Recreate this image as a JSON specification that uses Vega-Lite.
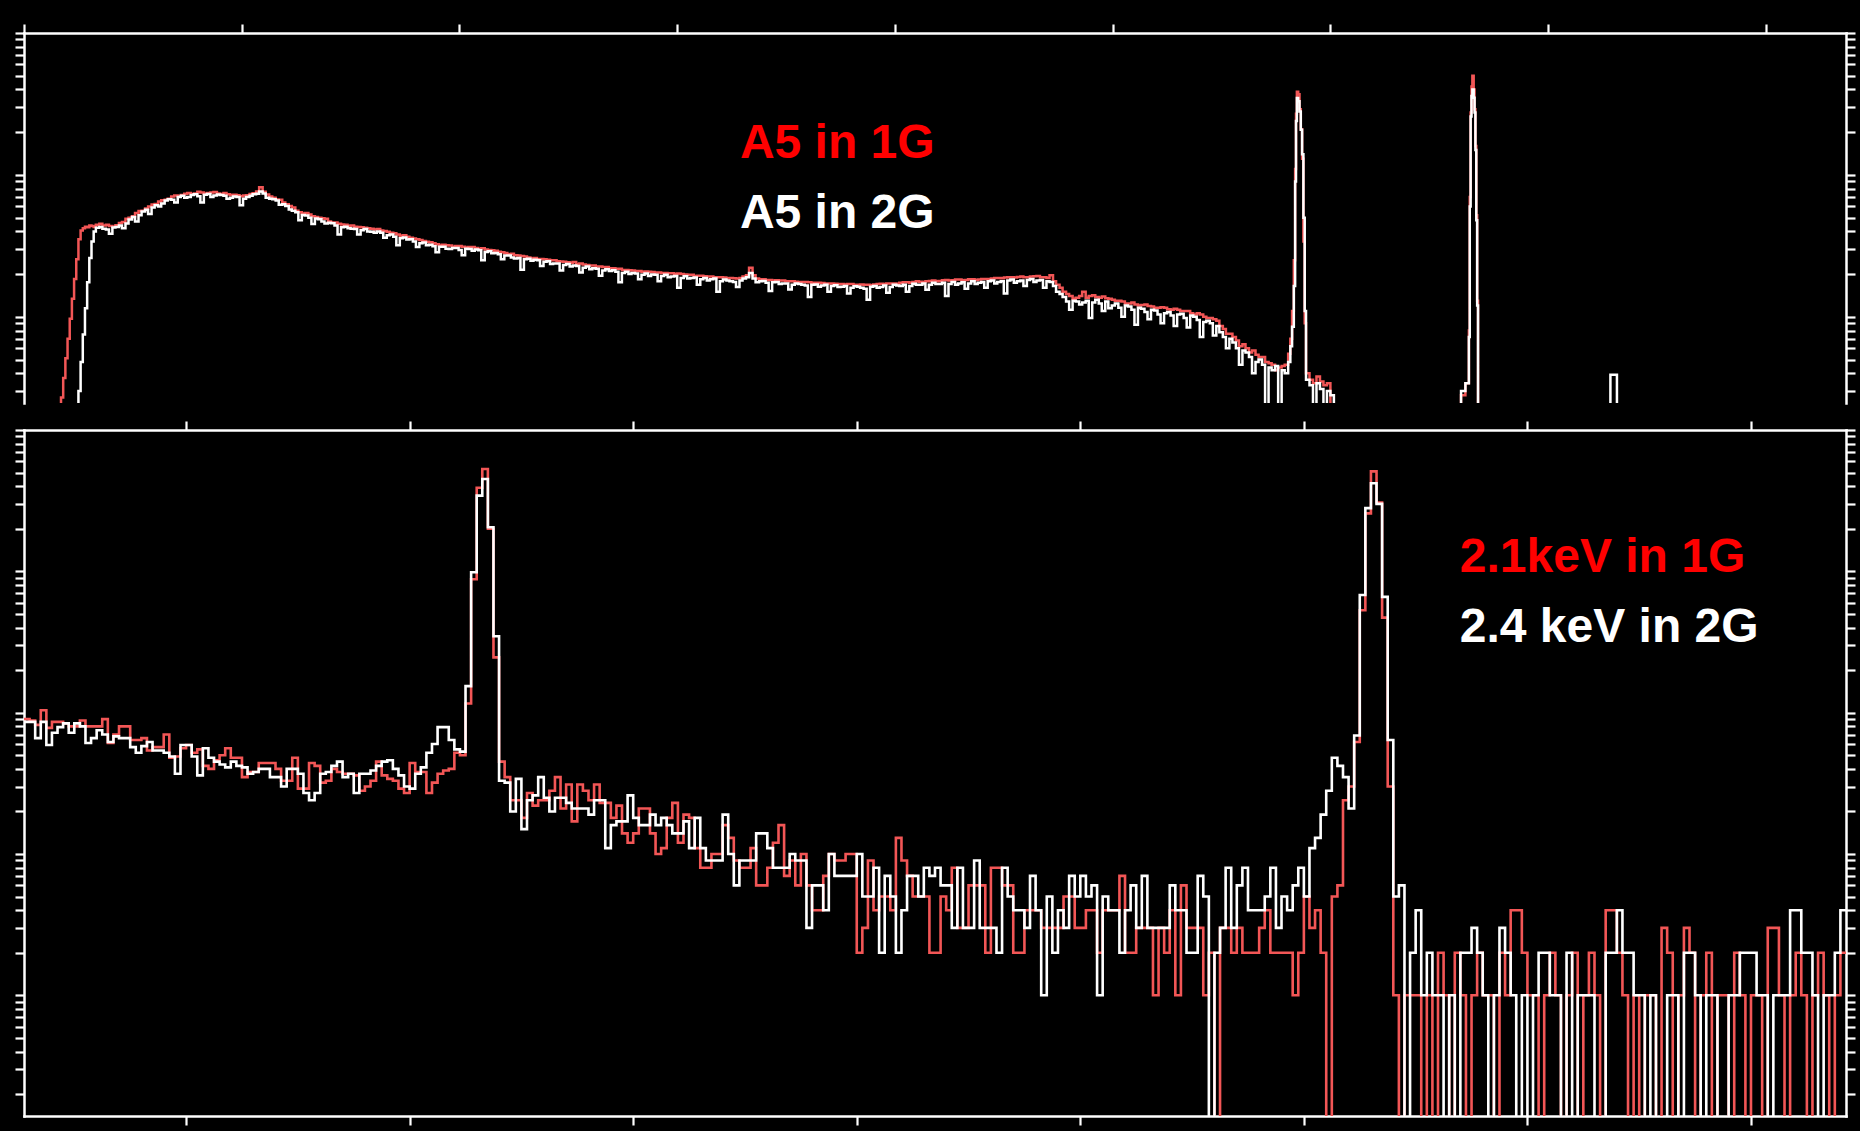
{
"$schema":"https://vega.github.io/schema/vega-lite/v6.json",
"background":"#000000",
"padding":{"left":13,"top":22,"right":5,"bottom":5},
"bounds":"flush",
"spacing":27,
"config":{"view":{"stroke":null},
"axis":{"labels":false,"title":null,"grid":false,"domainColor":"#ffffff","domainWidth":2.5,"tickColor":"#ffffff","tickWidth":2.2,"tickSize":9,"minExtent":0,"domainCap":"square"}},
"datasets":{
"top":[
{"x":75,"w":1,"r":1},{"x":80,"w":1,"r":22},{"x":85,"w":1,"r":27},{"x":90,"w":1,"r":37},{"x":95,"w":1,"r":51},{"x":100,"w":1,"r":70},{"x":105,"w":1,"r":97},{"x":110,"w":1,"r":134},{"x":115,"w":1,"r":185},{"x":120,"w":1,"r":255},{"x":125,"w":30,"r":352},{"x":130,"w":48,"r":405},{"x":135,"w":75,"r":420},{"x":140,"w":115,"r":432},{"x":145,"w":175,"r":428},{"x":150,"w":260,"r":440},{"x":155,"w":340,"r":436},{"x":160,"w":400,"r":430},
{"x":165,"w":425,"r":445},{"x":173,"w":430,"r":452},{"x":180,"w":418,"r":440},{"x":188,"w":412,"r":445},{"x":195,"w":385,"r":436},{"x":203,"w":426,"r":432},{"x":210,"w":430,"r":441},{"x":218,"w":440,"r":458},{"x":225,"w":420,"r":465},{"x":233,"w":455,"r":490},{"x":240,"w":486,"r":500},{"x":248,"w":505,"r":512},{"x":255,"w":470,"r":540},{"x":263,"w":520,"r":556},{"x":270,"w":552,"r":560},{"x":278,"w":568,"r":580},{"x":285,"w":530,"r":600},{"x":293,"w":590,"r":618},{"x":300,"w":610,"r":625},{"x":308,"w":600,"r":650},{"x":315,"w":630,"r":662},{"x":323,"w":660,"r":668},{"x":330,"w":675,"r":680},{"x":338,"w":668,"r":705},{"x":345,"w":640,"r":715},{"x":353,"w":700,"r":708},{"x":360,"w":712,"r":722},{"x":368,"w":690,"r":738},{"x":375,"w":700,"r":745},{"x":383,"w":722,"r":732},{"x":390,"w":730,"r":740},{"x":398,"w":708,"r":760},{"x":405,"w":640,"r":752},{"x":413,"w":725,"r":738},{"x":420,"w":735,"r":745},{"x":428,"w":700,"r":752},{"x":435,"w":715,"r":758},{"x":443,"w":728,"r":740},{"x":450,"w":722,"r":735},{"x":458,"w":712,"r":745},{"x":465,"w":680,"r":730},{"x":473,"w":690,"r":722},{"x":480,"w":705,"r":725},{"x":488,"w":700,"r":718},{"x":495,"w":610,"r":708},{"x":503,"w":680,"r":715},{"x":510,"w":698,"r":720},{"x":518,"w":712,"r":735},{"x":525,"w":730,"r":742},{"x":533,"w":738,"r":765},{"x":540,"w":765,"r":820},{"x":548,"w":740,"r":760},{"x":555,"w":690,"r":728},{"x":563,"w":680,"r":705},{"x":570,"w":675,"r":690},{"x":578,"w":660,"r":672},{"x":585,"w":615,"r":668},{"x":593,"w":622,"r":640},{"x":600,"w":605,"r":620},{"x":608,"w":570,"r":605},{"x":615,"w":560,"r":590},{"x":623,"w":545,"r":560},{"x":630,"w":480,"r":545},{"x":638,"w":522,"r":535},{"x":645,"w":518,"r":538},{"x":653,"w":500,"r":525},{"x":660,"w":450,"r":512},{"x":668,"w":492,"r":505},{"x":675,"w":488,"r":500},{"x":683,"w":470,"r":495},{"x":690,"w":455,"r":490},{"x":698,"w":460,"r":470},{"x":705,"w":456,"r":462},{"x":713,"w":440,"r":462},{"x":720,"w":380,"r":452},{"x":728,"w":428,"r":448},{"x":735,"w":432,"r":445},{"x":743,"w":420,"r":438},{"x":750,"w":418,"r":440},{"x":758,"w":415,"r":432},{"x":765,"w":380,"r":430},{"x":773,"w":408,"r":428},{"x":780,"w":415,"r":425},{"x":788,"w":400,"r":420},{"x":795,"w":398,"r":418},{"x":803,"w":392,"r":412},{"x":810,"w":400,"r":415},{"x":818,"w":392,"r":405},{"x":825,"w":360,"r":402},{"x":833,"w":376,"r":398},{"x":840,"w":380,"r":392},{"x":848,"w":366,"r":388},{"x":855,"w":320,"r":380},{"x":863,"w":358,"r":372},{"x":870,"w":362,"r":376},{"x":878,"w":350,"r":366},{"x":885,"w":352,"r":360},{"x":893,"w":340,"r":356},{"x":900,"w":310,"r":352},{"x":908,"w":330,"r":348},{"x":915,"w":334,"r":342},{"x":923,"w":320,"r":338},{"x":930,"w":322,"r":335},{"x":938,"w":314,"r":330},{"x":945,"w":285,"r":325},{"x":953,"w":312,"r":318},{"x":960,"w":312,"r":322},{"x":968,"w":302,"r":320},{"x":975,"w":300,"r":318},{"x":983,"w":305,"r":312},{"x":990,"w":306,"r":315},{"x":998,"w":296,"r":316},{"x":1005,"w":272,"r":312},{"x":1013,"w":302,"r":308},{"x":1020,"w":300,"r":310},{"x":1028,"w":292,"r":310},{"x":1035,"w":298,"r":306},{"x":1043,"w":294,"r":300},{"x":1050,"w":250,"r":304},{"x":1058,"w":286,"r":298},{"x":1065,"w":290,"r":296},{"x":1073,"w":280,"r":294},{"x":1080,"w":282,"r":292},{"x":1088,"w":276,"r":288},{"x":1095,"w":255,"r":285},{"x":1103,"w":270,"r":282},{"x":1110,"w":270,"r":276},{"x":1118,"w":262,"r":278},{"x":1125,"w":258,"r":272},{"x":1133,"w":260,"r":270},{"x":1140,"w":215,"r":268},{"x":1148,"w":254,"r":266},{"x":1155,"w":257,"r":262},{"x":1163,"w":248,"r":258},{"x":1170,"w":252,"r":260},{"x":1178,"w":250,"r":254},{"x":1185,"w":228,"r":256},{"x":1193,"w":244,"r":255},{"x":1200,"w":246,"r":252},{"x":1208,"w":236,"r":250},{"x":1215,"w":238,"r":250},{"x":1223,"w":238,"r":246},{"x":1230,"w":212,"r":245},{"x":1238,"w":232,"r":244},{"x":1245,"w":236,"r":242},{"x":1253,"w":226,"r":240},{"x":1260,"w":230,"r":243},{"x":1268,"w":228,"r":236},{"x":1275,"w":205,"r":238},{"x":1283,"w":222,"r":234},{"x":1290,"w":226,"r":232},{"x":1298,"w":216,"r":230},{"x":1305,"w":220,"r":230},{"x":1313,"w":218,"r":226},{"x":1320,"w":195,"r":226},{"x":1328,"w":212,"r":224},{"x":1335,"w":216,"r":224},{"x":1343,"w":210,"r":220},{"x":1350,"w":213,"r":220},{"x":1358,"w":208,"r":218},{"x":1365,"w":175,"r":218},{"x":1373,"w":204,"r":214},{"x":1380,"w":208,"r":214},{"x":1388,"w":200,"r":213},{"x":1395,"w":204,"r":212},{"x":1403,"w":202,"r":210},{"x":1410,"w":184,"r":210},{"x":1418,"w":198,"r":208},{"x":1425,"w":202,"r":209},{"x":1433,"w":194,"r":208},{"x":1440,"w":199,"r":207},{"x":1448,"w":198,"r":205},{"x":1455,"w":178,"r":205},{"x":1463,"w":194,"r":204},{"x":1470,"w":198,"r":204},{"x":1478,"w":190,"r":203},{"x":1485,"w":192,"r":203},{"x":1493,"w":194,"r":200},{"x":1500,"w":160,"r":202},{"x":1508,"w":188,"r":200},{"x":1515,"w":193,"r":199},{"x":1523,"w":186,"r":198},{"x":1530,"w":188,"r":198},{"x":1538,"w":189,"r":194},{"x":1545,"w":168,"r":195},{"x":1553,"w":184,"r":195},{"x":1560,"w":188,"r":193},{"x":1568,"w":180,"r":192},{"x":1575,"w":184,"r":192},{"x":1583,"w":186,"r":190},{"x":1590,"w":150,"r":190},{"x":1598,"w":178,"r":190},{"x":1605,"w":183,"r":189},{"x":1613,"w":180,"r":187},{"x":1620,"w":178,"r":188},{"x":1628,"w":176,"r":187},{"x":1635,"w":162,"r":186},{"x":1643,"w":180,"r":188},{"x":1650,"w":186,"r":192},{"x":1658,"w":190,"r":196},{"x":1665,"w":204,"r":222},{"x":1673,"w":186,"r":196},{"x":1680,"w":175,"r":186},{"x":1688,"w":178,"r":184},{"x":1695,"w":179,"r":184},{"x":1703,"w":174,"r":182},{"x":1710,"w":152,"r":182},{"x":1718,"w":175,"r":180},{"x":1725,"w":176,"r":181},{"x":1733,"w":170,"r":180},{"x":1740,"w":172,"r":180},{"x":1748,"w":172,"r":178},{"x":1755,"w":156,"r":178},{"x":1763,"w":168,"r":178},{"x":1770,"w":172,"r":177},{"x":1778,"w":170,"r":175},{"x":1785,"w":168,"r":176},{"x":1793,"w":166,"r":176},{"x":1800,"w":138,"r":175},{"x":1808,"w":168,"r":174},{"x":1815,"w":169,"r":174},{"x":1823,"w":163,"r":174},{"x":1830,"w":166,"r":173},{"x":1838,"w":168,"r":172},{"x":1845,"w":150,"r":172},{"x":1853,"w":165,"r":172},{"x":1860,"w":167,"r":171},{"x":1868,"w":162,"r":170},{"x":1875,"w":163,"r":170},{"x":1883,"w":165,"r":169},{"x":1890,"w":146,"r":170},{"x":1898,"w":160,"r":170},{"x":1905,"w":164,"r":168},{"x":1913,"w":163,"r":168},{"x":1920,"w":160,"r":169},{"x":1928,"w":158,"r":168},{"x":1935,"w":132,"r":168},{"x":1943,"w":163,"r":167},{"x":1950,"w":165,"r":169},{"x":1958,"w":160,"r":170},{"x":1965,"w":162,"r":171},{"x":1973,"w":166,"r":170},{"x":1980,"w":148,"r":172},{"x":1988,"w":162,"r":172},{"x":1995,"w":168,"r":172},{"x":2003,"w":166,"r":171},{"x":2010,"w":165,"r":174},{"x":2018,"w":168,"r":175},{"x":2025,"w":150,"r":175},{"x":2033,"w":165,"r":174},{"x":2040,"w":171,"r":176},{"x":2048,"w":168,"r":178},{"x":2055,"w":168,"r":177},{"x":2063,"w":172,"r":176},{"x":2070,"w":155,"r":178},{"x":2078,"w":168,"r":179},{"x":2085,"w":174,"r":180},{"x":2093,"w":170,"r":178},{"x":2100,"w":170,"r":179},{"x":2108,"w":174,"r":181},{"x":2115,"w":140,"r":182},{"x":2123,"w":170,"r":180},{"x":2130,"w":176,"r":181},{"x":2138,"w":168,"r":183},{"x":2145,"w":172,"r":183},{"x":2153,"w":175,"r":181},{"x":2160,"w":158,"r":182},{"x":2168,"w":172,"r":184},{"x":2175,"w":178,"r":184},{"x":2183,"w":170,"r":182},{"x":2190,"w":174,"r":183},{"x":2198,"w":176,"r":185},{"x":2205,"w":160,"r":185},{"x":2213,"w":178,"r":184},{"x":2220,"w":180,"r":186},{"x":2228,"w":172,"r":188},{"x":2235,"w":176,"r":188},{"x":2243,"w":178,"r":187},{"x":2250,"w":146,"r":189},{"x":2258,"w":180,"r":190},{"x":2265,"w":183,"r":190},{"x":2273,"w":174,"r":189},{"x":2280,"w":178,"r":191},{"x":2288,"w":180,"r":192},{"x":2295,"w":165,"r":190},{"x":2303,"w":182,"r":190},{"x":2310,"w":185,"r":192},{"x":2318,"w":176,"r":193},{"x":2325,"w":180,"r":194},{"x":2333,"w":182,"r":190},{"x":2340,"w":160,"r":190},{"x":2348,"w":178,"r":188},{"x":2355,"w":176,"r":196},{"x":2363,"w":165,"r":178},{"x":2370,"w":150,"r":168},{"x":2378,"w":145,"r":160},{"x":2385,"w":138,"r":150},{"x":2393,"w":128,"r":145},{"x":2400,"w":112,"r":140},{"x":2408,"w":130,"r":134},{"x":2415,"w":128,"r":136},{"x":2423,"w":122,"r":140},{"x":2430,"w":126,"r":150},{"x":2438,"w":130,"r":136},{"x":2445,"w":98,"r":140},{"x":2453,"w":126,"r":142},{"x":2460,"w":132,"r":138},{"x":2468,"w":124,"r":136},{"x":2475,"w":110,"r":139},{"x":2483,"w":128,"r":135},{"x":2490,"w":115,"r":134},{"x":2498,"w":120,"r":132},{"x":2505,"w":124,"r":130},{"x":2513,"w":116,"r":130},{"x":2520,"w":100,"r":128},{"x":2528,"w":120,"r":124},{"x":2535,"w":118,"r":124},{"x":2543,"w":112,"r":126},{"x":2550,"w":88,"r":122},{"x":2558,"w":116,"r":120},{"x":2565,"w":114,"r":121},{"x":2573,"w":108,"r":122},{"x":2580,"w":96,"r":119},{"x":2588,"w":112,"r":118},{"x":2595,"w":111,"r":116},{"x":2603,"w":104,"r":116},{"x":2610,"w":90,"r":117},{"x":2618,"w":106,"r":116},{"x":2625,"w":108,"r":113},{"x":2633,"w":102,"r":112},{"x":2640,"w":86,"r":114},{"x":2648,"w":104,"r":112},{"x":2655,"w":105,"r":110},{"x":2663,"w":98,"r":110},{"x":2670,"w":84,"r":110},{"x":2678,"w":102,"r":106},{"x":2685,"w":100,"r":104},{"x":2693,"w":95,"r":106},{"x":2700,"w":72,"r":104},{"x":2708,"w":92,"r":100},{"x":2715,"w":94,"r":98},{"x":2723,"w":90,"r":98},{"x":2730,"w":74,"r":96},{"x":2738,"w":86,"r":94},{"x":2745,"w":78,"r":86},{"x":2753,"w":72,"r":82},{"x":2760,"w":60,"r":76},{"x":2768,"w":70,"r":76},{"x":2775,"w":66,"r":72},{"x":2783,"w":60,"r":68},{"x":2790,"w":46,"r":62},{"x":2798,"w":58,"r":64},{"x":2805,"w":56,"r":60},{"x":2813,"w":52,"r":56},{"x":2820,"w":40,"r":58},{"x":2828,"w":48,"r":54},{"x":2835,"w":50,"r":52},{"x":2843,"w":46,"r":52},{"x":2850,"w":1,"r":48},{"x":2858,"w":44,"r":47},{"x":2865,"w":42,"r":46},{"x":2873,"w":45,"r":42},{"x":2880,"w":1,"r":44},{"x":2888,"w":42,"r":45},{"x":2895,"w":40,"r":46},
{"x":2903,"w":48,"r":55},{"x":2908,"w":62,"r":70},{"x":2912,"w":85,"r":110},{"x":2916,"w":165,"r":250},{"x":2919,"w":900,"r":1100},{"x":2921,"w":2400,"r":2700},{"x":2923,"w":3480,"r":3860},{"x":2926,"w":3300,"r":3700},{"x":2929,"w":2800,"r":2900},{"x":2932,"w":2080,"r":2100},{"x":2935,"w":1400,"r":1300},{"x":2938,"w":500,"r":340},{"x":2941,"w":110,"r":90},{"x":2944,"w":36,"r":40},{"x":2952,"w":33,"r":36},{"x":2960,"w":1,"r":34},{"x":2968,"w":34,"r":38},{"x":2976,"w":31,"r":35},{"x":2984,"w":1,"r":33},{"x":2992,"w":30,"r":34},{"x":3000,"w":28,"r":1},{"x":3008,"w":1,"r":1},
{"x":3300,"w":30,"r":28},{"x":3310,"w":34,"r":34},{"x":3318,"w":72,"r":80},{"x":3320,"w":600,"r":700},{"x":3322,"w":2580,"r":2750},{"x":3324,"w":3600,"r":4200},{"x":3326,"w":4000,"r":5000},{"x":3329,"w":3500,"r":4000},{"x":3331,"w":2750,"r":2900},{"x":3333,"w":1500,"r":1600},{"x":3335,"w":480,"r":520},{"x":3337,"w":120,"r":130},{"x":3339,"w":1,"r":1},{"x":3643,"w":39,"r":1},{"x":3658,"w":1,"r":1},{"x":4184,"w":1,"r":1}
],
"bot":[
{"x":10,"w":86,"r":90},{"x":11,"w":86,"r":88},{"x":12,"w":66,"r":82},{"x":13,"w":86,"r":104},{"x":14,"w":59,"r":78},{"x":15,"w":72,"r":86},{"x":16,"w":79,"r":86},{"x":17,"w":84,"r":84},{"x":18,"w":72,"r":80},{"x":19,"w":84,"r":80},{"x":20,"w":80,"r":88},{"x":21,"w":61,"r":80},{"x":22,"w":66,"r":80},{"x":23,"w":75,"r":80},{"x":24,"w":70,"r":90},{"x":25,"w":62,"r":61},{"x":26,"w":68,"r":70},{"x":27,"w":66,"r":80},{"x":28,"w":66,"r":80},{"x":29,"w":57,"r":64},{"x":30,"w":52,"r":64},{"x":31,"w":58,"r":66},{"x":32,"w":62,"r":54},{"x":33,"w":54,"r":57},{"x":34,"w":54,"r":57},{"x":35,"w":52,"r":70},{"x":36,"w":49,"r":48},{"x":37,"w":37,"r":49},{"x":38,"w":59,"r":56},{"x":39,"w":59,"r":59},{"x":40,"w":49,"r":52},{"x":41,"w":36,"r":55},{"x":42,"w":56,"r":42},{"x":43,"w":48,"r":40},{"x":44,"w":45,"r":46},{"x":45,"w":43,"r":50},{"x":46,"w":41,"r":56},{"x":47,"w":45,"r":48},{"x":48,"w":42,"r":48},{"x":49,"w":41,"r":35},{"x":50,"w":37,"r":38},{"x":51,"w":38,"r":38},{"x":52,"w":40,"r":44},{"x":53,"w":40,"r":44},{"x":54,"w":35,"r":44},{"x":55,"w":35,"r":40},{"x":56,"w":30,"r":33},{"x":57,"w":40,"r":33},{"x":58,"w":40,"r":48},{"x":59,"w":37,"r":29},{"x":60,"w":27,"r":29},{"x":61,"w":24,"r":44},{"x":62,"w":27,"r":42},{"x":63,"w":37,"r":32},{"x":64,"w":38,"r":33},{"x":65,"w":42,"r":40},{"x":66,"w":45,"r":38},{"x":67,"w":35,"r":37},{"x":68,"w":37,"r":37},{"x":69,"w":27,"r":36},{"x":70,"w":37,"r":28},{"x":71,"w":37,"r":30},{"x":72,"w":39,"r":33},{"x":73,"w":42,"r":45},{"x":74,"w":45,"r":36},{"x":75,"w":46,"r":34},{"x":76,"w":40,"r":33},{"x":77,"w":36,"r":29},{"x":78,"w":30,"r":27},{"x":79,"w":29,"r":44},{"x":80,"w":37,"r":38},{"x":81,"w":41,"r":38},{"x":82,"w":52,"r":27},{"x":83,"w":60,"r":32},{"x":84,"w":79,"r":37},{"x":85,"w":79,"r":39},{"x":86,"w":64,"r":40},{"x":87,"w":55,"r":52},{"x":88,"w":53,"r":50},{"x":89,"w":154,"r":116},{"x":90,"w":984,"r":880},{"x":91,"w":3435,"r":3900},{"x":92,"w":4500,"r":5300},{"x":93,"w":2050,"r":2000},{"x":94,"w":347,"r":246},{"x":95,"w":33,"r":45},{"x":96,"w":32,"r":35},{"x":97,"w":20,"r":24},{"x":98,"w":34,"r":24},{"x":99,"w":15,"r":18},
{"x":100,"w":24,"r":27},{"x":101,"w":26,"r":22},{"x":102,"w":35,"r":24},{"x":103,"w":25,"r":24},{"x":104,"w":20,"r":28},{"x":105,"w":25,"r":35},{"x":106,"w":25,"r":21},{"x":107,"w":23,"r":31},{"x":108,"w":21,"r":17},{"x":109,"w":21,"r":31},{"x":110,"w":21,"r":28},{"x":111,"w":19,"r":24},{"x":112,"w":24,"r":31},{"x":113,"w":24,"r":23},{"x":114,"w":11,"r":23},{"x":115,"w":16,"r":18},{"x":116,"w":17,"r":22},{"x":117,"w":17,"r":14},{"x":118,"w":26,"r":12},{"x":119,"w":18,"r":14},{"x":120,"w":16,"r":21},{"x":121,"w":16,"r":21},{"x":122,"w":19,"r":14},{"x":123,"w":16,"r":10},{"x":124,"w":18,"r":11},{"x":125,"w":16,"r":18},{"x":126,"w":14,"r":23},{"x":127,"w":14,"r":12},{"x":128,"w":17,"r":19},{"x":129,"w":11,"r":18},{"x":130,"w":18,"r":11},{"x":131,"w":11,"r":8},{"x":132,"w":9,"r":8},{"x":133,"w":9,"r":10},{"x":134,"w":9,"r":10},{"x":135,"w":19,"r":16},{"x":136,"w":10,"r":13},{"x":137,"w":6,"r":9},{"x":138,"w":9,"r":8},{"x":139,"w":9,"r":8},{"x":140,"w":9,"r":11},{"x":141,"w":14,"r":6},{"x":142,"w":14,"r":6},{"x":143,"w":11,"r":8},{"x":144,"w":8,"r":12},{"x":145,"w":8,"r":16},{"x":146,"w":8,"r":7},{"x":147,"w":10,"r":9},{"x":148,"w":9,"r":6},{"x":149,"w":9,"r":10},{"x":150,"w":3,"r":6},{"x":151,"w":6,"r":4},{"x":152,"w":6,"r":4},{"x":153,"w":4,"r":7},{"x":154,"w":10,"r":10},{"x":155,"w":7,"r":9},{"x":156,"w":7,"r":9},{"x":157,"w":7,"r":10},{"x":158,"w":7,"r":10},{"x":159,"w":10,"r":2},{"x":160,"w":5,"r":3},{"x":161,"w":5,"r":9},{"x":162,"w":8,"r":4},{"x":163,"w":2,"r":5},{"x":164,"w":7,"r":5},{"x":165,"w":5,"r":4},{"x":166,"w":2,"r":13},{"x":167,"w":4,"r":9},{"x":168,"w":7,"r":7},{"x":169,"w":7,"r":5},{"x":170,"w":5,"r":5},{"x":171,"w":8,"r":5},{"x":172,"w":7,"r":2},{"x":173,"w":8,"r":2},{"x":174,"w":6,"r":5},{"x":175,"w":6,"r":4},{"x":176,"w":3,"r":8},{"x":177,"w":8,"r":3},{"x":178,"w":3,"r":3},{"x":179,"w":3,"r":6},{"x":180,"w":9,"r":6},{"x":181,"w":3,"r":6},{"x":182,"w":3,"r":2},{"x":183,"w":3,"r":8},{"x":184,"w":2,"r":8},{"x":185,"w":8,"r":6},{"x":186,"w":5,"r":6},{"x":187,"w":4,"r":2},{"x":188,"w":4,"r":2},{"x":189,"w":3,"r":4},{"x":190,"w":7,"r":4},{"x":191,"w":4,"r":4},{"x":192,"w":1,"r":3},{"x":193,"w":5,"r":3},{"x":194,"w":2,"r":3},{"x":195,"w":4,"r":3},{"x":196,"w":3,"r":5},{"x":197,"w":7,"r":5},{"x":198,"w":5,"r":3},{"x":199,"w":7,"r":3},
{"x":200,"w":5,"r":4},{"x":201,"w":6,"r":4},{"x":202,"w":1,"r":2},{"x":203,"w":5,"r":4},{"x":204,"w":4,"r":4},{"x":205,"w":4,"r":4},{"x":206,"w":2,"r":7},{"x":207,"w":4,"r":2},{"x":208,"w":6,"r":2},{"x":209,"w":3,"r":3},{"x":210,"w":7,"r":3},{"x":211,"w":3,"r":3},{"x":212,"w":3,"r":1},{"x":213,"w":3,"r":3},{"x":214,"w":3,"r":2},{"x":215,"w":6,"r":4},{"x":216,"w":4,"r":1},{"x":217,"w":4,"r":6},{"x":218,"w":2,"r":3},{"x":219,"w":2,"r":3},{"x":220,"w":7,"r":3},{"x":221,"w":5,"r":1},{"x":222,"w":0.01,"r":2},{"x":223,"w":2,"r":0.01},{"x":224,"w":3,"r":3},{"x":225,"w":8,"r":3},{"x":226,"w":3,"r":2},{"x":227,"w":6,"r":3},{"x":228,"w":8,"r":2},{"x":229,"w":4,"r":2},{"x":230,"w":4,"r":2},{"x":231,"w":4,"r":3},{"x":232,"w":5,"r":4},{"x":233,"w":8,"r":2},{"x":234,"w":3,"r":2},{"x":235,"w":5,"r":2},{"x":236,"w":4,"r":2},{"x":237,"w":6,"r":1},{"x":238,"w":8,"r":2},{"x":239,"w":5,"r":5},{"x":240,"w":11,"r":3},{"x":241,"w":13,"r":4},{"x":242,"w":19,"r":2},{"x":243,"w":28,"r":0.01},{"x":244,"w":48,"r":5},{"x":245,"w":42,"r":6},{"x":246,"w":35,"r":24},{"x":247,"w":21,"r":30},{"x":248,"w":69,"r":62},{"x":249,"w":680,"r":530},{"x":250,"w":2800,"r":2570},{"x":251,"w":4200,"r":5100},{"x":252,"w":3000,"r":3070},{"x":253,"w":660,"r":470},{"x":254,"w":64,"r":30},{"x":255,"w":5,"r":1},{"x":256,"w":6,"r":0.01},{"x":257,"w":0.01,"r":1},{"x":258,"w":2,"r":1},{"x":259,"w":4,"r":1},{"x":260,"w":1,"r":0.01},{"x":261,"w":2,"r":1},{"x":262,"w":1,"r":0.01},{"x":263,"w":1,"r":2},{"x":264,"w":0.01,"r":1},{"x":265,"w":1,"r":0.01},{"x":266,"w":0.01,"r":2},{"x":267,"w":2,"r":1},{"x":268,"w":2,"r":0.01},{"x":269,"w":3,"r":1},{"x":270,"w":2,"r":2},{"x":271,"w":1,"r":1},{"x":272,"w":0.01,"r":1},{"x":273,"w":1,"r":0.01},{"x":274,"w":3,"r":2},{"x":275,"w":2,"r":1},{"x":276,"w":1,"r":4},{"x":277,"w":0.01,"r":4},{"x":278,"w":1,"r":2},{"x":279,"w":0.01,"r":1},{"x":280,"w":1,"r":1},{"x":281,"w":2,"r":0.01},{"x":282,"w":2,"r":1},{"x":283,"w":1,"r":2},{"x":284,"w":1,"r":1},{"x":285,"w":0.01,"r":0.01},{"x":286,"w":2,"r":1},{"x":287,"w":0.01,"r":2},{"x":288,"w":1,"r":0.01},{"x":289,"w":1,"r":1},{"x":290,"w":1,"r":2},{"x":291,"w":0.01,"r":1},{"x":292,"w":0.01,"r":0.01},{"x":293,"w":2,"r":4},{"x":294,"w":2,"r":4},{"x":295,"w":4,"r":2},{"x":296,"w":2,"r":1},{"x":297,"w":2,"r":0.01},{"x":298,"w":1,"r":1},{"x":299,"w":1,"r":0.01},
{"x":300,"w":0.01,"r":1},{"x":301,"w":1,"r":1},{"x":302,"w":0.01,"r":0.01},{"x":303,"w":0.01,"r":3},{"x":304,"w":1,"r":2},{"x":305,"w":1,"r":0.01},{"x":306,"w":0.01,"r":1},{"x":307,"w":2,"r":3},{"x":308,"w":2,"r":2},{"x":309,"w":1,"r":0.01},{"x":310,"w":0.01,"r":1},{"x":311,"w":1,"r":2},{"x":312,"w":1,"r":0.01},{"x":313,"w":0.01,"r":1},{"x":314,"w":0.01,"r":1},{"x":315,"w":1,"r":0.01},{"x":316,"w":1,"r":2},{"x":317,"w":2,"r":1},{"x":318,"w":2,"r":0.01},{"x":319,"w":2,"r":1},{"x":320,"w":1,"r":1},{"x":321,"w":1,"r":0.01},{"x":322,"w":0.01,"r":3},{"x":323,"w":1,"r":3},{"x":324,"w":1,"r":1},{"x":325,"w":1,"r":0.01},{"x":326,"w":4,"r":1},{"x":327,"w":4,"r":2},{"x":328,"w":2,"r":1},{"x":329,"w":2,"r":0.01},{"x":330,"w":1,"r":1},{"x":331,"w":0.01,"r":2},{"x":332,"w":1,"r":1},{"x":333,"w":1,"r":0.01},{"x":334,"w":2,"r":1},{"x":335,"w":4,"r":2},{"x":336,"w":4,"r":2}
],
"lt":[{"x":1644,"y":1316,"t":"A5 in 1G","c":"#ff0000"},{"x":1644,"y":423,"t":"A5 in 2G","c":"#ffffff"}],
"lb":[{"x":266.9,"y":989,"t":"2.1keV in 1G","c":"#ff0000"},{"x":266.9,"y":316,"t":"2.4 keV in 2G","c":"#ffffff"}]
},
"vconcat":[
{"width":1822,"height":370,
"resolve":{"axis":{"x":"independent","y":"independent"}},
"layer":[
{"data":{"name":"top"},"mark":{"type":"line","interpolate":"step-after","color":"#f25656","strokeWidth":2.5,"clip":true},
"encoding":{"x":{"field":"x","type":"quantitative","scale":{"domain":[0,4184],"nice":false,"zero":false},"axis":{"orient":"top","values":[0,500,1000,1500,2000,2500,3000,3500,4000]}},
"y":{"field":"r","type":"quantitative","scale":{"type":"log","domain":[24.7,10000],"nice":false},"axis":{"orient":"left","values":[30,40,50,60,70,80,90,100,200,300,400,500,600,700,800,900,1000,2000,3000,4000,5000,6000,7000,8000,9000,10000]}}}},
{"data":{"name":"top"},"mark":{"type":"line","interpolate":"step-after","color":"#ffffff","strokeWidth":2.5,"clip":true},
"encoding":{"x":{"field":"x","type":"quantitative","axis":null},
"y":{"field":"w","type":"quantitative","axis":{"orient":"right","values":[30,40,50,60,70,80,90,100,200,300,400,500,600,700,800,900,1000,2000,3000,4000,5000,6000,7000,8000,9000,10000]}}}},
{"data":{"name":"lt"},"mark":{"type":"text","font":"Liberation Sans","fontWeight":"bold","fontSize":48,"align":"left","baseline":"alphabetic"},
"encoding":{"x":{"field":"x","type":"quantitative","axis":null},"y":{"field":"y","type":"quantitative","axis":null},"text":{"field":"t"},"color":{"field":"c","type":"nominal","scale":null}}}
]},
{"width":1822,"height":686,
"resolve":{"axis":{"x":"independent","y":"independent"}},
"layer":[
{"data":{"name":"bot"},"mark":{"type":"line","interpolate":"step-after","color":"#f25656","strokeWidth":2.6,"clip":true},
"encoding":{"x":{"field":"x","type":"quantitative","scale":{"domain":[10,336],"nice":false,"zero":false},"axis":{"orient":"top","values":[39,79,119,159,199,239,279,319]}},
"y":{"field":"r","type":"quantitative","scale":{"type":"log","domain":[0.14,10000],"nice":false},"axis":{"orient":"left","values":[0.2,0.3,0.4,0.5,0.6,0.7,0.8,0.9,1,2,3,4,5,6,7,8,9,10,20,30,40,50,60,70,80,90,100,200,300,400,500,600,700,800,900,1000,2000,3000,4000,5000,6000,7000,8000,9000,10000]}}}},
{"data":{"name":"bot"},"mark":{"type":"line","interpolate":"step-after","color":"#ffffff","strokeWidth":2.6,"clip":true},
"encoding":{"x":{"field":"x","type":"quantitative","axis":{"orient":"bottom","values":[39,79,119,159,199,239,279,319]}},
"y":{"field":"w","type":"quantitative","axis":{"orient":"right","values":[0.2,0.3,0.4,0.5,0.6,0.7,0.8,0.9,1,2,3,4,5,6,7,8,9,10,20,30,40,50,60,70,80,90,100,200,300,400,500,600,700,800,900,1000,2000,3000,4000,5000,6000,7000,8000,9000,10000]}}}},
{"data":{"name":"lb"},"mark":{"type":"text","font":"Liberation Sans","fontWeight":"bold","fontSize":48,"align":"left","baseline":"alphabetic"},
"encoding":{"x":{"field":"x","type":"quantitative","axis":null},"y":{"field":"y","type":"quantitative","axis":null},"text":{"field":"t"},"color":{"field":"c","type":"nominal","scale":null}}}
]}
]
}
